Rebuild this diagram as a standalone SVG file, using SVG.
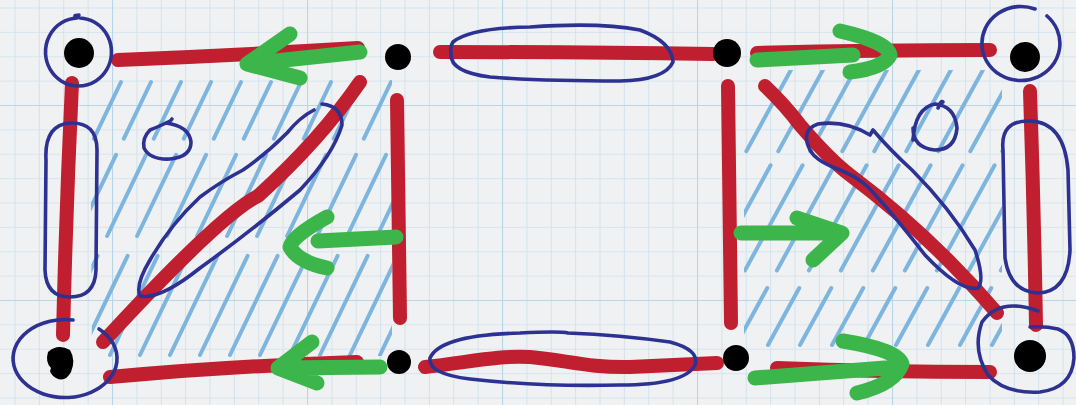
<svg xmlns="http://www.w3.org/2000/svg" width="1076" height="405" viewBox="0 0 1076 405">
<defs>
<pattern id="minor" patternUnits="userSpaceOnUse" x="14.5" y="7.5" width="24.375" height="24.375">
<path d="M0,0 V24.375 M0,0 H24.375" stroke="#cfe1ed" stroke-width="1.7" fill="none"/>
</pattern>
<pattern id="major" patternUnits="userSpaceOnUse" x="112" y="105" width="195" height="195">
<path d="M0,0 V195 M0,0 H195" stroke="#b9d6e9" stroke-width="2.2" fill="none"/>
</pattern>
<clipPath id="clipL"><polygon points="90,78 392,74 392,356 92,358"/></clipPath>
<clipPath id="clipR"><polygon points="744,70 1002,70 1002,352 744,352"/></clipPath>
</defs>
<style>
.red{fill:none;stroke:#c01f2f;stroke-width:14;stroke-linecap:round;stroke-linejoin:round}
.grn{fill:none;stroke:#3cb64b;stroke-width:15;stroke-linecap:round;stroke-linejoin:round}
.blu{fill:none;stroke:#2d3192;stroke-width:3.6;stroke-linecap:round;stroke-linejoin:round}
.hat{fill:none;stroke:#7db5de;stroke-width:4;stroke-linecap:round}
.dot{fill:#000}
</style>
<rect width="1076" height="405" fill="#eff1f2"/>
<rect width="1076" height="405" fill="url(#minor)"/>
<rect width="1076" height="405" fill="url(#major)"/>

<g id="hatch-left" clip-path="url(#clipL)">
<path class="hat" d="M-10,355 L121,82 M20,355 L151,82 M50,355 L181,82 M80,355 L211,82 M110,355 L241,82 M140,355 L271,82 M170,355 L301,82 M200,355 L331,82 M230,355 L361,82 M260,355 L391,82 M290,355 L421,82 M320,355 L451,82 M350,355 L481,82 M380,355 L511,82" stroke-dasharray="110 22 90 18"/>
</g>
<g id="hatch-right" clip-path="url(#clipR)">
<path class="hat" d="M640,345 L792,68 M672,345 L824,68 M704,345 L856,68 M736,345 L888,68 M768,345 L920,68 M800,345 L952,68 M832,345 L984,68 M864,345 L1016,68 M896,345 L1048,68 M928,345 L1080,68 M960,345 L1112,68 M992,345 L1144,68" stroke-dasharray="95 20 120 16" stroke-dashoffset="30"/>
</g>

<g id="connectors">
<path class="red" d="M118,60 Q240,55 358,48"/>
<path class="red" d="M72,83 Q66,210 63,335"/>
<path class="red" d="M103,342 Q220,215 258,196 Q320,140 360,82"/>
<path class="red" d="M397,100 Q399,210 400,318"/>
<path class="red" d="M110,377 Q230,366 357,362"/>
<path class="red" d="M440,52 Q580,52 713,54"/>
<path class="red" d="M728,86 Q730,210 731,323"/>
<path class="red" d="M425,367 C470,362 500,355 530,357 C565,360 590,368 630,367 L717,363"/>
<path class="red" d="M757,53 Q870,50 990,50"/>
<path class="red" d="M1030,91 Q1034,210 1036,325"/>
<path class="red" d="M765,86 Q785,105 800,125 Q830,160 850,175 Q930,235 997,313"/>
<path class="red" d="M777,368 Q880,372 990,372"/>
</g>

<g id="annotations-blue">
<path class="blu" d="M46,160 Q44,125 70,123 Q97,122 97,150 L96,270 Q95,297 70,297 Q46,297 45,270 Z"/>
<path class="blu" d="M166,123 Q160,126 150,130 Q142,138 144,148 Q150,160 170,159 Q191,157 191,142 Q189,126 166,123 Q171,121 172,119"/>
<path class="blu" d="M314,110 Q300,117 287,133 Q265,155 243,170 Q220,182 200,197 Q170,225 150,260 Q135,285 140,296 Q160,300 200,268 Q250,232 300,190 Q333,155 342,125 Q342,106 322,104"/>
<path class="blu" d="M453,42 Q470,28 530,27 Q600,22 640,30 Q672,42 673,62 Q665,80 620,81 Q540,81 490,77 Q450,72 451,54 Q450,46 453,42"/>
<path class="blu" d="M430,358 Q440,335 520,333 Q560,331 568,333 Q620,335 670,342 Q700,350 695,365 Q685,385 620,385 Q540,387 470,379 Q428,374 430,358"/>
<path class="blu" d="M913,140 Q915,108 935,104 Q955,106 957,128 Q955,150 935,150 Q913,148 913,128 M938,108 Q941,100 943,102"/>
<path class="blu" d="M810,150 Q800,130 818,124 Q845,120 870,135 L873,130 Q890,150 912,170 Q950,208 975,250 Q985,280 978,288 Q960,292 925,255 Q890,210 868,187 Q855,175 835,168 Q815,160 810,150"/>
<path class="blu" d="M1003,150 Q1000,120 1030,121 Q1064,122 1068,170 L1070,250 Q1068,292 1038,293 Q1010,292 1005,258 Z"/>
</g>

<g id="arrows-green">
<path class="grn" d="M360,52 L247,64 M290,34 L247,64 L300,78"/>
<path class="grn" d="M396,237 L318,241 M327,217 Q292,236 290,247 Q298,262 327,268"/>
<path class="grn" d="M380,367 L278,368 M312,342 L278,368 L317,383"/>
<path class="grn" d="M757,60 L853,55 M840,31 Q888,42 890,55 Q884,68 850,72"/>
<path class="grn" d="M741,233 L838,233 M797,218 L842,233 L813,260"/>
<path class="grn" d="M755,378 L898,367 M843,341 Q898,350 902,364 Q895,384 857,393"/>
</g>

<g id="node-tl">
<path class="blu" d="M80,18 A33,34 0 1 1 77,18 Q72,15 79,15"/>
<circle class="dot" cx="79" cy="53" r="15"/>
</g>
<g id="node-bl">
<path class="blu" d="M73,320 A52,39 0 1 0 99,329"/>
<path class="dot" d="M48,352 Q58,343 70,350 Q76,360 71,372 Q65,383 56,378 Q48,373 51,368 Q45,362 48,352 Z"/>
</g>
<g id="node-tml"><circle class="dot" cx="398" cy="57" r="13"/></g>
<g id="node-bml"><circle class="dot" cx="399" cy="362" r="12"/></g>
<g id="node-tmr"><circle class="dot" cx="727" cy="53" r="14"/></g>
<g id="node-bmr"><circle class="dot" cx="736" cy="358" r="13"/></g>
<g id="node-tr">
<path class="blu" d="M1047,16 A39,37 0 1 1 1035,9"/>
<circle class="dot" cx="1025" cy="57" r="15"/>
</g>
<g id="node-br">
<path class="blu" d="M1038,311 Q1000,297 982,322 Q972,350 988,375 Q1005,394 1040,392 Q1072,388 1074,358 Q1074,335 1058,329 Q1045,326 1030,327"/>
<circle class="dot" cx="1030" cy="356" r="16"/>
</g>
</svg>
